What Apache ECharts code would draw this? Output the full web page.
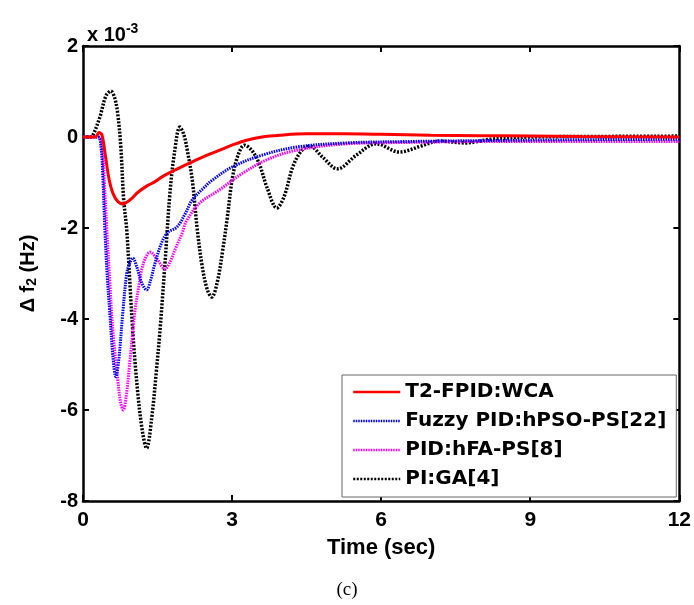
<!DOCTYPE html>
<html><head><meta charset="utf-8">
<script src="https://cdn.jsdelivr.net/npm/echarts@6/dist/echarts.min.js"></script>
<style>html,body{margin:0;padding:0;background:#fff}#c{width:694px;height:605px}</style>
</head><body><div id="c"></div>
<script>
const seriesNames = ['T2-FPID:WCA', 'Fuzzy PID:hPSO-PS[22]', 'PID:hFA-PS[8]', 'PI:GA[4]'];
const xTicks = [0, 3, 6, 9, 12];
const yTicks = [-8, -6, -4, -2, 0, 2];
// [time (s), deviation (x 1e-3 Hz)]
const red = [[0,0],[0.25,0],[0.32,0.1],[0.38,0.05],[0.45,-0.4],[0.52,-0.9],[0.6,-1.23],[0.7,-1.42],[0.8,-1.47],[0.95,-1.38],[1.1,-1.22],[1.28,-1.08],[1.45,-0.98],[1.6,-0.87],[1.9,-0.7],[2.15,-0.57],[2.45,-0.42],[2.75,-0.29],[3.0,-0.18],[3.29,-0.07],[3.6,0],[3.96,0.04],[4.5,0.07],[5.2,0.07],[6,0.06],[7,0.04],[8,0.03],[9,0.02],[10,0.01],[12,0]];
const blue = [[0,0],[0.3,0],[0.36,-0.2],[0.4,-0.9],[0.44,-2.04],[0.49,-3.1],[0.54,-3.87],[0.6,-4.8],[0.66,-5.27],[0.72,-4.9],[0.8,-3.87],[0.88,-3.0],[0.94,-2.77],[1.0,-2.66],[1.08,-2.85],[1.18,-3.2],[1.28,-3.36],[1.36,-3.15],[1.45,-2.77],[1.58,-2.33],[1.7,-2.1],[1.89,-1.98],[2.05,-1.7],[2.2,-1.38],[2.4,-1.15],[2.6,-0.95],[3.0,-0.66],[3.6,-0.4],[4.3,-0.22],[5.3,-0.13],[6.5,-0.1],[8,-0.08],[10,-0.06],[12,-0.05]];
const magenta = [[0,0],[0.32,0],[0.38,-0.15],[0.43,-1.0],[0.48,-2.04],[0.54,-3.2],[0.6,-4.24],[0.7,-5.34],[0.76,-5.85],[0.81,-6.0],[0.87,-5.7],[0.94,-4.97],[1.04,-3.87],[1.12,-3.3],[1.18,-2.92],[1.26,-2.65],[1.35,-2.53],[1.5,-2.7],[1.65,-2.9],[1.75,-2.75],[1.85,-2.48],[2.0,-2.1],[2.08,-1.85],[2.35,-1.45],[2.75,-1.16],[3.15,-0.84],[3.7,-0.5],[4.3,-0.29],[5.3,-0.15],[6.5,-0.12],[8,-0.1],[10,-0.1],[12,-0.1]];
const black = [[0,0],[0.15,0],[0.2,0.04],[0.34,0.44],[0.46,0.9],[0.56,1.01],[0.64,0.85],[0.7,0.5],[0.76,-0.2],[0.82,-1.4],[0.88,-2.04],[1.0,-4.24],[1.1,-5.6],[1.2,-6.5],[1.28,-6.84],[1.38,-6.2],[1.48,-5.1],[1.55,-4.24],[1.65,-2.77],[1.75,-1.23],[1.84,-0.35],[1.95,0.22],[2.03,0.05],[2.1,-0.3],[2.2,-0.95],[2.3,-2.04],[2.4,-2.85],[2.5,-3.35],[2.59,-3.52],[2.7,-3.2],[2.81,-2.5],[2.9,-1.8],[3.01,-0.88],[3.12,-0.4],[3.25,-0.18],[3.4,-0.3],[3.55,-0.6],[3.7,-1.1],[3.9,-1.56],[4.05,-1.3],[4.22,-0.66],[4.4,-0.3],[4.56,-0.2],[4.82,-0.44],[5.12,-0.7],[5.5,-0.4],[5.9,-0.15],[6.37,-0.33],[6.8,-0.2],[7.17,-0.09],[7.7,-0.13],[8.2,-0.05],[9,0],[10,0.01],[12,0.02]];

const FONT = 'Liberation Sans, Arial, sans-serif';
const LFONT = 'DejaVu Sans, Liberation Sans, sans-serif';
const chart = echarts.init(document.getElementById('c'));
const lineSeries = (name, data, color, type, width) => ({
  name, type: 'line', data, smooth: 0.35, symbol: 'none', xAxisIndex: 0, yAxisIndex: 0,
  lineStyle: { color, width, type }, itemStyle: { color }
});
const tickStyle = { inside: true, length: 6, lineStyle: { color: '#000', width: 2 } };
const lineStyleAx = { show: true, onZero: false, lineStyle: { color: '#000', width: 2.5 } };
chart.setOption({
  animation: false,
  backgroundColor: '#fff',
  grid: { left: 83, right: 13, top: 46, bottom: 104, show: false },
  title: [
    { text: 'x 10{s|-3}', left: 82, top: 17, textStyle: { fontFamily: FONT, fontSize: 20, fontWeight: 'bold', color: '#000', rich: { s: { fontSize: 14, fontWeight: 'bold', fontFamily: FONT, padding: [0,0,12,0] } } } },
    { text: '(c)', left: 'center', top: 576, textStyle: { fontFamily: 'Liberation Serif, serif', fontSize: 19, fontWeight: 'normal', color: '#000' } }
  ],
  legend: {
    orient: 'vertical', left: 342, top: 375, width: 333,
    padding: [7, 10, 8, 10], itemGap: 9, itemWidth: 47, itemHeight: 14,
    borderColor: '#666', borderWidth: 1, backgroundColor: '#fff',
    lineStyle: { width: 2.5 },
    itemStyle: { opacity: 0 },
    textStyle: { fontFamily: LFONT, fontSize: 20, fontWeight: 'bold', color: '#000', width: 270 },
    data: seriesNames
  },
  xAxis: [
    { type: 'value', min: 0, max: 12, interval: 3, name: 'Time (sec)', nameLocation: 'middle', nameGap: 36,
      nameTextStyle: { fontFamily: FONT, fontSize: 22, fontWeight: 'bold', color: '#000' },
      axisLine: lineStyleAx, axisTick: tickStyle,
      axisLabel: { fontFamily: FONT, fontSize: 21, fontWeight: 'bold', color: '#000', margin: 9, formatter: v => xTicks.includes(v) ? String(v) : '' },
      splitLine: { show: false } },
    { type: 'value', position: 'top', min: 0, max: 12, interval: 3,
      axisLine: lineStyleAx, axisTick: tickStyle,
      axisLabel: { show: false }, splitLine: { show: false } }
  ],
  yAxis: [
    { type: 'value', min: -8, max: 2, interval: 2,
      name: 'Δ f{s|2} (Hz)', nameLocation: 'middle', nameGap: 45, nameRotate: 90,
      nameTextStyle: { fontFamily: FONT, fontSize: 20, fontWeight: 'bold', color: '#000', rich: { s: { fontSize: 14, fontWeight: 'bold', fontFamily: FONT, padding: [0,0,-8,0] } } },
      axisLine: lineStyleAx, axisTick: tickStyle,
      axisLabel: { fontFamily: FONT, fontSize: 20, fontWeight: 'bold', color: '#000', margin: 5, formatter: v => yTicks.includes(v) ? String(v) : '' },
      splitLine: { show: false } },
    { type: 'value', position: 'right', min: -8, max: 2, interval: 2,
      axisLine: lineStyleAx, axisTick: tickStyle,
      axisLabel: { show: false }, splitLine: { show: false } }
  ],
  series: [
    lineSeries(seriesNames[3], black, '#000', [2, 1.5], 3.5),
    lineSeries(seriesNames[2], magenta, '#ff00ff', [1.5, 1], 3),
    lineSeries(seriesNames[1], blue, '#0000ff', [1.5, 1], 3),
    lineSeries(seriesNames[0], red, '#ff0000', 'solid', 3)
  ]
});
</script></body></html>
